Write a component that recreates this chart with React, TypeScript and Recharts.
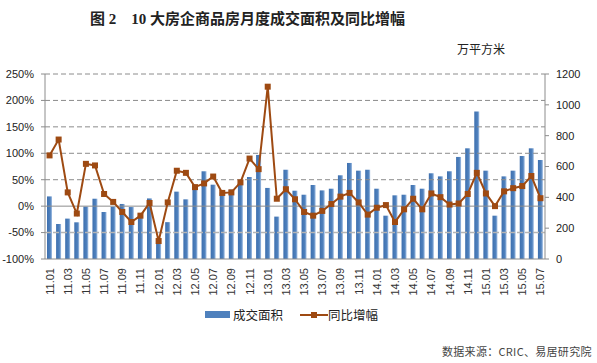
import React from 'react';
import { ComposedChart, Bar, Line, XAxis, YAxis, ReferenceLine } from 'recharts';

const months = [
  '11.01', '11.02', '11.03', '11.04', '11.05', '11.06', '11.07', '11.08', '11.09', '11.10', '11.11', '11.12',
  '12.01', '12.02', '12.03', '12.04', '12.05', '12.06', '12.07', '12.08', '12.09', '12.10', '12.11', '12.12',
  '13.01', '13.02', '13.03', '13.04', '13.05', '13.06', '13.07', '13.08', '13.09', '13.10', '13.11', '13.12',
  '14.01', '14.02', '14.03', '14.04', '14.05', '14.06', '14.07', '14.08', '14.09', '14.10', '14.11', '14.12',
  '15.01', '15.02', '15.03', '15.04', '15.05', '15.06', '15.07',
];

// 成交面积 (万平方米), right axis
const area = [
  406, 227, 262, 238, 340, 391, 305, 339, 357, 337, 292, 393,
  120, 239, 437, 387, 460, 569, 482, 432, 450, 493, 532, 675,
  461, 275, 579, 443, 417, 480, 445, 456, 543, 623, 573, 579,
  456, 281, 413, 417, 480, 456, 556, 536, 569, 662, 718, 956,
  573, 281, 536, 573, 668, 718, 642,
];

// 同比增幅 (%), left axis
const growth = [
  96, 126, 26, -14, 80, 77, 23, 8, -11, -30, -18, 6,
  -66, 7, 67, 63, 36, 43, 56, 25, 26, 45, 90, 70,
  226, 14, 32, 13, -11, -18, -9, 4, 18, 25, 7, -16,
  -3, 2, -30, -6, 14, -6, 24, 17, 3, 5, 23, 63,
  24, 0, 28, 34, 38, 57, 15,
];

const leftTicks = [-100, -50, 0, 50, 100, 150, 200, 250];
const rightTicks = [0, 200, 400, 600, 800, 1000, 1200];
const dashedGrid = [50, 100, 150, 200, 250];

const data = months.map((m, i) => ({ month: m, area: area[i], growth: growth[i] }));

const BAR_COLOR = '#4F81BD';
const LINE_COLOR = '#9E4A12';
const FONT = '"Liberation Sans", Arial, sans-serif';
const CJK = '"Noto Sans CJK SC", sans-serif';

const MonthTick = (props: any) => {
  const { x, y, payload } = props;
  return (
    <text
      x={x}
      y={y}
      transform={`rotate(-90, ${x}, ${y})`}
      textAnchor="end"
      dominantBaseline="central"
      fontSize={11}
      fontFamily={FONT}
      fill="#333"
    >
      {payload.value}
    </text>
  );
};

const SquareDot = (props: any) => {
  const { cx, cy, index } = props;
  if (cx == null || cy == null) return null;
  return <rect key={`dot-${index}`} x={cx - 3} y={cy - 3} width={6} height={6} fill={LINE_COLOR} />;
};

export default function App() {
  return (
    <div style={{ position: 'absolute', left: 0, top: 0, width: 597, height: 363, background: '#fff', fontFamily: CJK }}>
      <div
        style={{
          position: 'absolute', left: 0, top: 7, width: 495, textAlign: 'center',
          fontSize: 15, fontWeight: 700, fontFamily: '"Liberation Serif", "Noto Sans CJK SC", serif', color: '#222',
          whiteSpace: 'pre',
        }}
      >
        {'图 2    10 大房企商品房月度成交面积及同比增幅'}
      </div>
      <div style={{ position: 'absolute', left: 457, top: 40, fontSize: 12, color: '#222' }}>万平方米</div>

      <ComposedChart
        width={597}
        height={363}
        data={data}
        margin={{ top: 74, right: 0, bottom: 59, left: 5 }}
        barCategoryGap="45%"
      >
        <defs>
          <linearGradient id="barFill" x1="0" y1="0" x2="1" y2="0">
            <stop offset="0%" stopColor="#3E70AF" />
            <stop offset="65%" stopColor={BAR_COLOR} />
            <stop offset="100%" stopColor="#A7C2E5" />
          </linearGradient>
        </defs>
        <XAxis
          dataKey="month"
          interval={1}
          height={45}
          tick={<MonthTick />}
          tickLine={false}
          tickSize={4}
          tickMargin={5}
          axisLine={{ stroke: '#8C8C8C' }}
        />
        <YAxis
          yAxisId="left"
          width={40}
          domain={[-100, 250]}
          ticks={leftTicks}
          interval={0}
          tickFormatter={(v: number) => `${v}%`}
          tick={{ fontSize: 11, fill: '#222', fontFamily: FONT }}
          tickSize={4}
          tickMargin={7}
          tickLine={{ stroke: '#8C8C8C' }}
          axisLine={{ stroke: '#8C8C8C' }}
        />
        <YAxis
          yAxisId="right"
          orientation="right"
          width={52}
          domain={[0, 1200]}
          ticks={rightTicks}
          interval={0}
          tick={{ fontSize: 11, fill: '#222', fontFamily: FONT, textAnchor: 'start' }}
          tickSize={4}
          tickMargin={7}
          tickLine={{ stroke: '#8C8C8C' }}
          axisLine={{ stroke: '#8C8C8C' }}
        />
        {dashedGrid.map((v) => (
          <ReferenceLine key={v} yAxisId="left" y={v} stroke="#8C8C8C" strokeDasharray="5 3" strokeWidth={1} />
        ))}
        <ReferenceLine yAxisId="left" y={-50} stroke="#B5B5B5" strokeDasharray="6 2" strokeWidth={1.5} />
        <Bar
          yAxisId="right"
          dataKey="area"
          name="成交面积"
          fill="url(#barFill)"
          barSize={5}
          isAnimationActive={false}
        />
        <ReferenceLine yAxisId="left" y={0} stroke="#8C8C8C" strokeWidth={1} />
        <Line
          yAxisId="left"
          dataKey="growth"
          name="同比增幅"
          stroke={LINE_COLOR}
          strokeWidth={2}
          dot={<SquareDot />}
          activeDot={false}
          isAnimationActive={false}
        />
      </ComposedChart>

      <div style={{ position: 'absolute', left: 205, top: 305, display: 'flex', alignItems: 'center', fontSize: 12.5, color: '#222' }}>
        <span style={{ display: 'inline-block', width: 25, height: 7, background: BAR_COLOR, marginRight: 3 }} />
        <span>成交面积</span>
        <svg width={28} height={10} style={{ marginLeft: 17 }}>
          <line x1={0} y1={5} x2={28} y2={5} stroke={LINE_COLOR} strokeWidth={2} />
          <rect x={11} y={2} width={6} height={6} fill={LINE_COLOR} />
        </svg>
        <span>同比增幅</span>
      </div>
      <div style={{ position: 'absolute', left: 442, top: 343, fontSize: 11, color: '#444', letterSpacing: 0.3 }}>
        数据来源：CRIC、易居研究院
      </div>
    </div>
  );
}
